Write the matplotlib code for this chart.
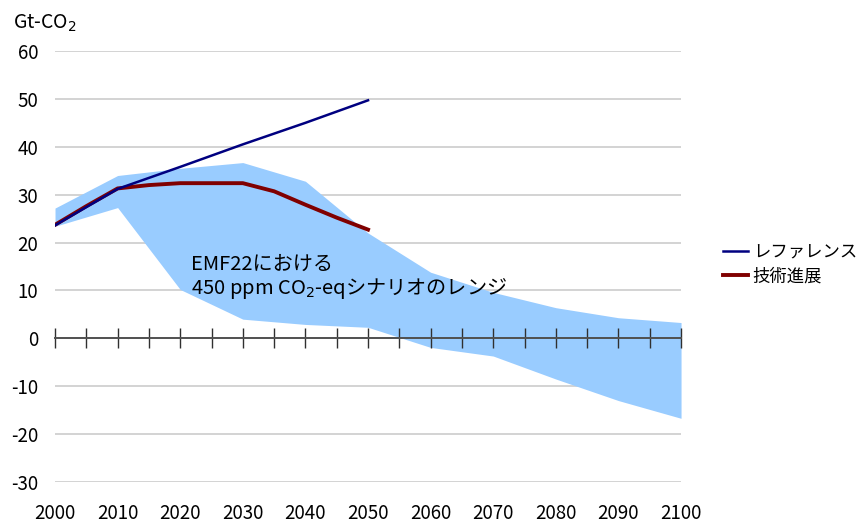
import numpy as np
import matplotlib
matplotlib.use("Agg")
import matplotlib.pyplot as plt
from matplotlib.ticker import MultipleLocator

plt.rcParams['font.family'] = ['Noto Sans CJK JP', 'DejaVu Sans']
plt.rcParams['font.size'] = 13
plt.rcParams['axes.unicode_minus'] = False

# 排出量データ (Gt-CO2)
ref_years = [2000, 2010, 2020, 2030, 2040, 2050]
ref_vals = [23.6, 31.2, 35.8, 40.5, 45.0, 49.7]

tech_years = [2000, 2005, 2010, 2015, 2020, 2025, 2030, 2035, 2040, 2045, 2050]
tech_vals = [23.7, 27.6, 31.3, 32.0, 32.4, 32.4, 32.4, 30.7, 27.9, 25.2, 22.7]

band_years = [2000, 2010, 2020, 2030, 2040, 2050, 2060, 2070, 2080, 2090, 2100]
band_upper = [27.2, 34.0, 35.5, 36.7, 32.8, 22.0, 13.8, 9.6, 6.4, 4.3, 3.3]
band_lower = [23.4, 27.3, 10.2, 4.0, 2.9, 2.3, -1.9, -3.7, -8.5, -13.0, -16.7]

x_ticks = list(range(2000, 2101, 10))
y_ticks = [-30, -20, -10, 0, 10, 20, 30, 40, 50, 60]

fig = plt.figure(figsize=(8.61, 5.23), dpi=100)
ax = fig.add_axes([0.0639, 0.0784, 0.7271, 0.8241])

ax.set_xlim(2000, 2100)
ax.set_ylim(-30, 60)

# 横グリッド (0 は軸線で描く)
ax.set_yticks(y_ticks)
ax.tick_params(axis='y', length=0, pad=12, labelsize=13.5)
for y in y_ticks:
    if y != 0:
        ax.axhline(y, color='#c8c8c8', lw=1.1, zorder=0)

# EMF22 レンジ
ax.fill_between(band_years, band_lower, band_upper, color='#99ccff', lw=0, zorder=1)

ax.plot(ref_years, ref_vals, color='#000080', lw=1.8, zorder=4, label='レファレンス')
ax.plot(tech_years, tech_vals, color='#800000', lw=2.8, zorder=3, label='技術進展')

# 0 の位置に x 軸
for s in ['top', 'right', 'left']:
    ax.spines[s].set_visible(False)
ax.spines['bottom'].set_position(('data', 0))
ax.spines['bottom'].set_color('#505050')
ax.spines['bottom'].set_linewidth(1.4)
ax.spines['bottom'].set_zorder(5)
ax.xaxis.set_major_locator(MultipleLocator(5))
ax.tick_params(axis='x', direction='inout', length=14, width=1.0, color='#303030',
               labelbottom=False)

# 年ラベルは下端に
sec = ax.secondary_xaxis('bottom')
sec.set_xticks(x_ticks)
sec.tick_params(length=0, pad=15, labelsize=13.5)
sec.spines['bottom'].set_visible(False)

ax.text(2021.8, 14.4, 'EMF22における', fontsize=14.5, zorder=6)
ax.text(2021.8, 9.3, '450 ppm CO$_2$-eqシナリオのレンジ', fontsize=14.5, zorder=6)

fig.text(0.015, 0.955, 'Gt-CO$_2$', fontsize=14, va='center')

ax.legend(loc='center left', bbox_to_anchor=(1.048, 0.505), frameon=False,
          fontsize=12.5, handlelength=1.4, handletextpad=0.3, labelspacing=0.35,
          borderaxespad=0.3)

fig.savefig('out.png', dpi=100)
